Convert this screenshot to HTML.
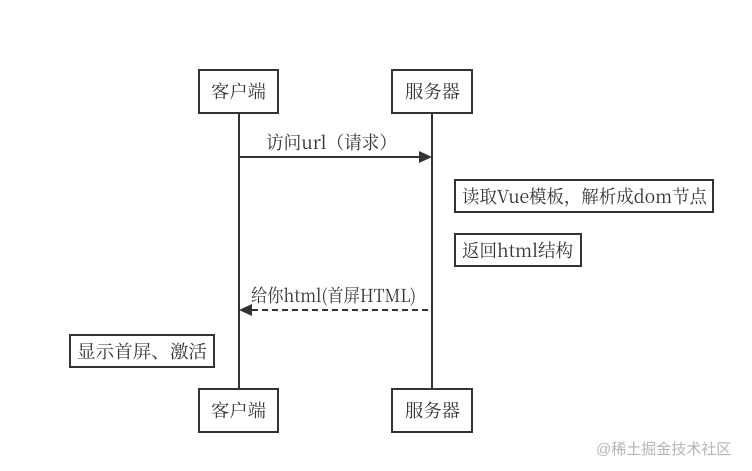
<!DOCTYPE html>
<html><head><meta charset="utf-8"><style>
html,body{margin:0;padding:0;background:#fff}
svg{display:block}
text{font-family:"Noto Serif CJK SC","Liberation Serif",serif;font-size:18px;fill:#333}
</style></head><body>
<svg width="752" height="471" viewBox="0 0 752 471" xmlns="http://www.w3.org/2000/svg">
<g stroke="#333" stroke-width="2" fill="none">
<line x1="239" y1="113" x2="239" y2="388"/>
<line x1="432" y1="113" x2="432" y2="388"/>
<rect x="199" y="70" width="79" height="43"/>
<rect x="392" y="70" width="80" height="43"/>
<rect x="199" y="389" width="79" height="43"/>
<rect x="392" y="389" width="80" height="43"/>
<rect x="455" y="180" width="258" height="32" fill="#fff"/>
<rect x="455" y="234" width="126" height="32" fill="#fff"/>
<rect x="70" y="335" width="144" height="32" fill="#fff"/>
<line x1="239" y1="157" x2="420" y2="157"/>
<line x1="252" y1="310" x2="432" y2="310" stroke-dasharray="6,4"/>
</g>
<polygon points="432,157 419,151 419,163" fill="#333"/>
<polygon points="239,310 252,304 252,316" fill="#333"/>
<text x="211" y="98" textLength="55" lengthAdjust="spacingAndGlyphs">客户端</text>
<text x="405" y="98" textLength="55" lengthAdjust="spacingAndGlyphs">服务器</text>
<text x="211" y="417" textLength="55" lengthAdjust="spacingAndGlyphs">客户端</text>
<text x="405" y="417" textLength="55" lengthAdjust="spacingAndGlyphs">服务器</text>
<text x="266" y="149" textLength="131" lengthAdjust="spacingAndGlyphs">访问url（请求）</text>
<text x="251" y="302" textLength="165" lengthAdjust="spacingAndGlyphs">给你html(首屏HTML)</text>
<text x="462" y="203" textLength="245" lengthAdjust="spacingAndGlyphs">读取Vue模板，解析成dom节点</text>
<text x="462" y="257" textLength="111" lengthAdjust="spacingAndGlyphs">返回html结构</text>
<text x="77" y="358" textLength="130" lengthAdjust="spacingAndGlyphs">显示首屏、激活</text>
<text x="596" y="454" style="font-family:'Liberation Sans','Noto Sans CJK SC',sans-serif;font-size:15px;fill:#b5b5b5">@稀土掘金技术社区</text>
</svg>
</body></html>
